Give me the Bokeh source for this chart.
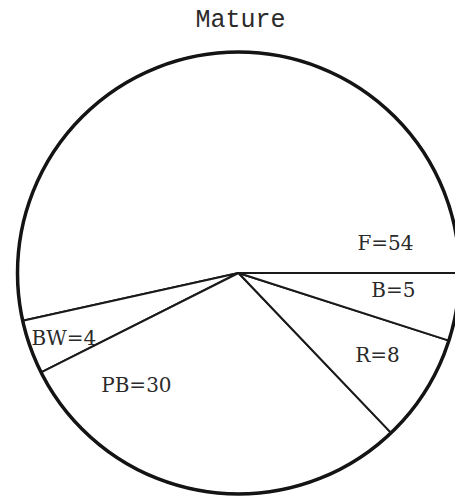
import numpy as np
from bokeh.plotting import figure
from bokeh.models import Range1d, ColumnDataSource
from bokeh.core.properties import value
from bokeh.embed import file_html
from bokeh.resources import INLINE

# Data (counter-clockwise order starting at 3 o'clock)
names = ["F", "BW", "PB", "R", "B"]
counts = [54, 4, 30, 8, 5]
title_text = "Mature"

# Label anchors (layout, data units relative to pie center, radius = 1)
label_x = [0.665, -0.790, -0.462, 0.629, 0.701]
label_y = [0.138, -0.292, -0.509, -0.373, -0.079]

vals = np.array(counts, dtype=float)
frac = vals / vals.sum()
ends = np.cumsum(frac) * 2 * np.pi
starts = np.concatenate([[0.0], ends[:-1]])

src = ColumnDataSource(dict(
    start=starts, end=ends,
    lx=label_x, ly=label_y,
    text=[f"{n}={c}" for n, c in zip(names, counts)],
))

W, H = 455, 499
CX, CY, R = 238.0, 272.5, 221.0

p = figure(width=W, height=H, output_backend="svg", toolbar_location=None,
           x_range=Range1d(-CX / R, (W - CX) / R), y_range=Range1d((CY - H) / R, CY / R),
           x_axis_type=None, y_axis_type=None,
           min_border=0, min_border_left=0, min_border_right=0,
           min_border_top=0, min_border_bottom=0)
p.grid.visible = False
p.outline_line_color = None
p.background_fill_color = "white"
p.border_fill_color = "white"

p.wedge(x=0, y=0, radius=1, start_angle="start", end_angle="end",
        fill_color="white", line_color="#1a1a1a", line_width=2, source=src)
p.circle(x=[0], y=[0], radius=1, fill_color=None, line_color="#141414", line_width=3.5)

p.text(x="lx", y="ly", text="text", source=src, text_font=value("DejaVu Serif"),
       text_font_size="20px", text_color="#2a2a2a", text_align="center",
       text_baseline="middle")
p.text(x=[0.009], y=[1.143], text=[title_text], text_font=value("Liberation Mono"),
       text_font_size="25px", text_color="#2a2a2a", text_align="center",
       text_baseline="middle")

open("out.html", "w").write(file_html(p, INLINE))
